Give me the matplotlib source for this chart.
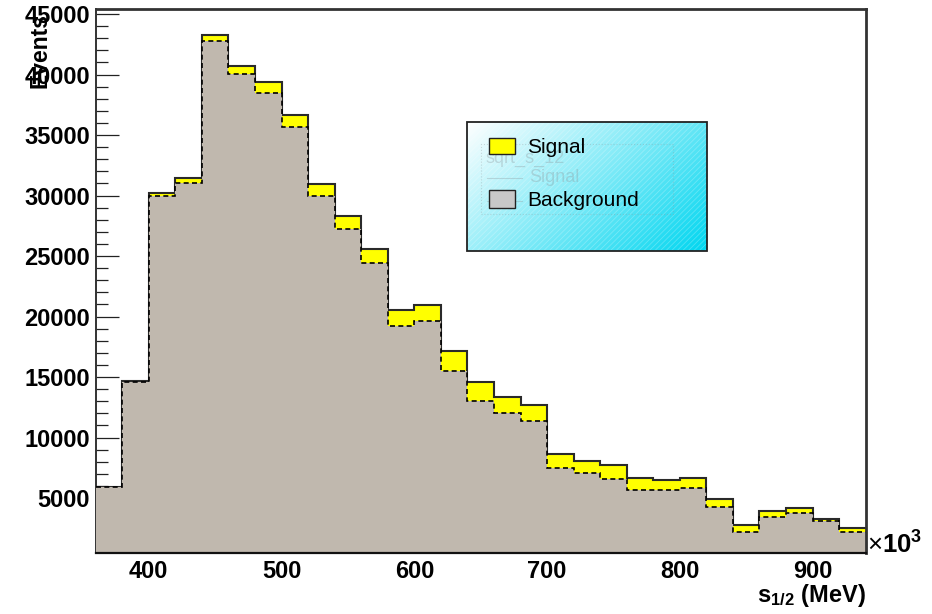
import numpy as np
import matplotlib
matplotlib.use('Agg')
import matplotlib.pyplot as plt
from matplotlib.patches import Rectangle
from matplotlib.lines import Line2D
from matplotlib.ticker import MultipleLocator, FixedLocator

plt.rcParams['font.family'] = ['Liberation Sans', 'DejaVu Sans']
plt.rcParams['mathtext.fontset'] = 'custom'
plt.rcParams['mathtext.rm'] = 'Liberation Sans'
plt.rcParams['mathtext.bf'] = 'Liberation Sans:bold'
plt.rcParams['mathtext.it'] = 'Liberation Sans:italic'
plt.rcParams['hatch.linewidth'] = 0.6

# ---- data (x in units of 10^3 MeV-scale as on the axis) ----
bin_edges = np.arange(360, 941, 20)
background = [5920, 14610, 29990, 31060, 42760, 40010, 38440, 35690, 29990, 27240,
              24410, 19210, 19590, 15520, 13040, 12050, 11330, 7510, 7070, 6550,
              5670, 5670, 5860, 4290, 2200, 3410, 3770, 3110, 2230]
signal = [30, 50, 200, 420, 470, 660, 960, 940, 970, 1050,
          1160, 1350, 1380, 1590, 1510, 1320, 1380, 1100, 1020, 1150,
          960, 850, 770, 660, 610, 490, 380, 190, 270]
x_ticks = [400, 500, 600, 700, 800, 900]
y_ticks = [5000, 10000, 15000, 20000, 25000, 30000, 35000, 40000, 45000]
legend_labels = ['Signal', 'Background']

W, H = 932, 614
fig = plt.figure(figsize=(W / 100, H / 100), dpi=100)
L, R, T, B = 95.7, 865.7, 9.3, 553.3
ax = fig.add_axes([L / W, 1 - B / H, (R - L) / W, (B - T) / H])

total = np.array(background) + np.array(signal)
ax.stairs(total, bin_edges, fill=True, facecolor='#ffff00', edgecolor='none', lw=0, zorder=1)
ax.stairs(total, bin_edges, baseline=None, color='#2a2a2a', lw=1.5, zorder=1.2)
ax.stairs(background, bin_edges, fill=True, facecolor='#c0b8ae', edgecolor='none', lw=0, zorder=1.4)
ax.stairs(background, bin_edges, baseline=None, color='black', lw=1.2,
          linestyle=(0, (3, 2)), zorder=1.6)

ax.set_xlim(360, 940)
ax.set_ylim(430, 45390)
ax.set_axisbelow(True)

ax.xaxis.set_major_locator(FixedLocator(x_ticks))
ax.set_xticklabels([str(v) for v in x_ticks])
ax.xaxis.set_minor_locator(MultipleLocator(20))
ax.yaxis.set_major_locator(FixedLocator(y_ticks))
ax.set_yticklabels([str(v) for v in y_ticks])
ax.yaxis.set_minor_locator(MultipleLocator(1000))

ax.tick_params(axis='both', which='major', direction='in', length=16.3, width=0.9,
               color='#222222', labelsize=17, top=False, right=False)
ax.tick_params(axis='both', which='minor', direction='in', length=8.4, width=0.9,
               color='#222222', top=False, right=False)
ax.tick_params(axis='y', which='major', pad=4.2)
ax.tick_params(axis='x', which='major', pad=5.0)
for lab in ax.get_xticklabels() + ax.get_yticklabels():
    lab.set_fontweight('bold')

ax.spines['left'].set_zorder(0.6)
ax.spines['left'].set_color('#333333')
ax.spines['left'].set_linewidth(1.4)
ax.spines['bottom'].set_zorder(3)
ax.spines['bottom'].set_color('#111111')
ax.spines['bottom'].set_linewidth(1.6)
for s in ('top', 'right'):
    ax.spines[s].set_color('#333333')
    ax.spines[s].set_linewidth(2.0)
    ax.spines[s].set_zorder(3)

# axis titles
fig.text(40 / W, 1 - 13 / H, 'Events', rotation=90, ha='center', va='top',
         fontsize=16.5, fontweight='bold')
fig.text(866 / W, 1 - 601.7 / H, r'$\mathbf{s_{1/2}}$ (MeV)', ha='right', va='baseline',
         fontsize=17, fontweight='bold')
fig.text(867 / W, 1 - 553.8 / H, r'$\times\mathbf{10^{3}}$', ha='left', va='baseline',
         fontsize=18.5)

# ---- legend box ----
lx0, ly0, lx1, ly1 = 467.3, 122.3, 707.3, 251.0
lax = fig.add_axes([lx0 / W, 1 - ly1 / H, (lx1 - lx0) / W, (ly1 - ly0) / H])
nx, ny = 240, 129
gx = np.linspace(0, 1, nx)[None, :]
gy = np.linspace(0, 1, ny)[:, None]
t = np.clip((gx * 0.62 + gy * 0.38), 0, 1)
c0 = np.array([1.0, 1.0, 1.0])
c1 = np.array([0 / 255, 214 / 255, 240 / 255])
grad = c0[None, None, :] * (1 - t[..., None]) + c1[None, None, :] * t[..., None]
lax.imshow(grad, extent=[0, 1, 0, 1], aspect='auto', origin='upper', zorder=0)
lax.set_xlim(0, 1)
lax.set_ylim(0, 1)
lax.axis('off')
lax.add_patch(Rectangle((0, 0), 1, 1, fill=False, hatch='//////',
                        edgecolor=(1, 1, 1, 0.25), lw=0, zorder=1))
lax.add_patch(Rectangle((0, 0), 1, 1, fill=False, edgecolor='#222222', lw=1.3,
                        zorder=5, clip_on=False))

def fx(px):
    return (px - lx0) / (lx1 - lx0)

def fy(py):
    return 1 - (py - ly0) / (ly1 - ly0)

ghost = (0.55, 0.6, 0.62, 0.35)
lax.add_patch(Rectangle((fx(481), fy(214)), fx(673) - fx(481), fy(144) - fy(214),
                        fill=False, edgecolor=ghost, lw=0.8, linestyle=':', zorder=2))
lax.text(fx(485), fy(158.6), 'sqrt_s_12', color=ghost, fontsize=13, va='center', ha='left', zorder=2)
lax.add_line(Line2D([fx(487), fx(522)], [fy(178), fy(178)], color=ghost, lw=0.8, zorder=2))
lax.text(fx(529), fy(178), legend_labels[0], color=ghost, fontsize=13, va='center', ha='left', zorder=2)
lax.add_line(Line2D([fx(487), fx(522)], [fy(201), fy(201)], color=ghost, lw=0.8, zorder=2))

lax.add_patch(Rectangle((fx(489), fy(154.3)), fx(515) - fx(489), fy(137.7) - fy(154.3),
                        facecolor='#ffff00', edgecolor='#222222', lw=1.0, zorder=3))
lax.text(fx(527), fy(147.5), legend_labels[0], fontsize=15, va='center', ha='left', zorder=3)
lax.add_patch(Rectangle((fx(489), fy(208)), fx(515) - fx(489), fy(190) - fy(208),
                        facecolor='#c8c8c8', edgecolor='#222222', lw=1.0, zorder=3))
lax.text(fx(527), fy(201), legend_labels[1], fontsize=15, va='center', ha='left', zorder=3)

fig.savefig('out.png', dpi=100)
